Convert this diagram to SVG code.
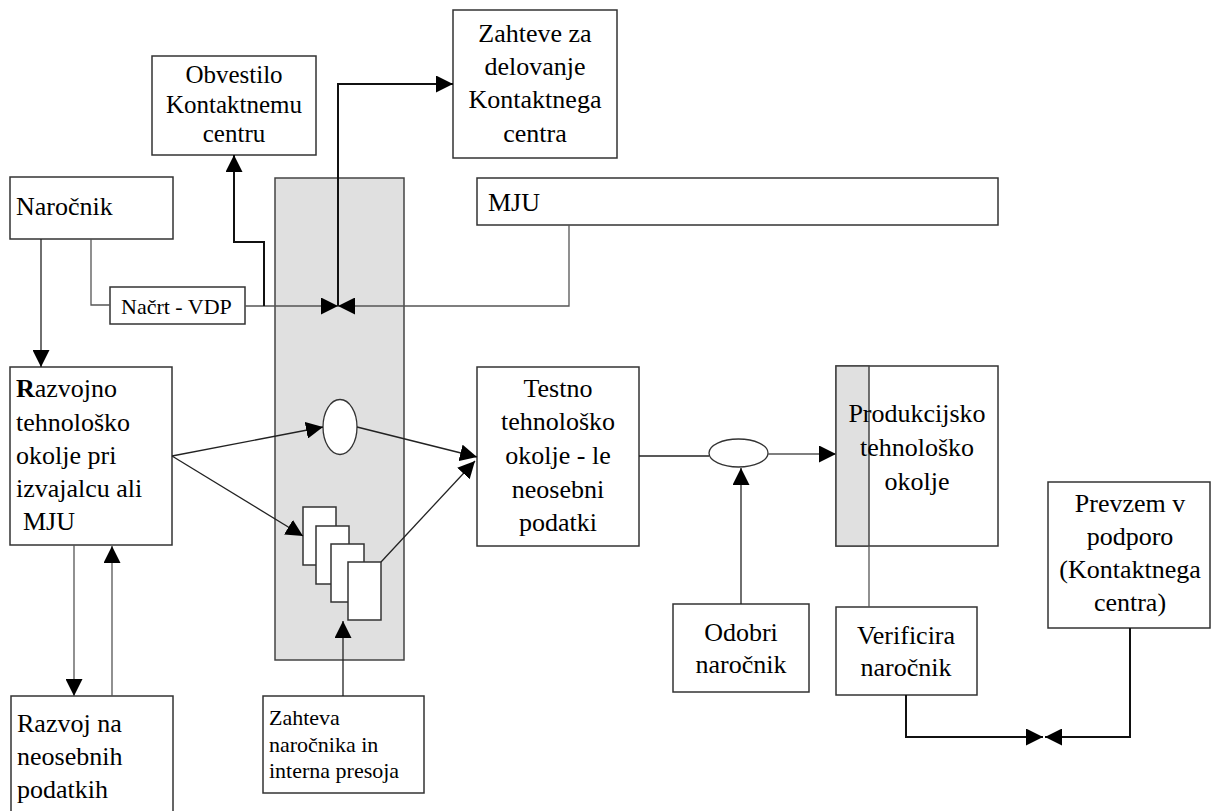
<svg xmlns="http://www.w3.org/2000/svg" width="1212" height="811" viewBox="0 0 1212 811" font-family="Liberation Serif, Times New Roman, DejaVu Serif, serif">
<style>
.box{fill:#fff;stroke:#333;stroke-width:1.5}
.gray{fill:#e0e0e0;stroke:#444;stroke-width:1.5}
text{font-family:'Liberation Serif','Times New Roman','DejaVu Serif',serif;font-size:26px;fill:#000}
.c{text-anchor:middle}
.s{font-size:22px}
.o{font-size:25px}
.ln{fill:none;stroke:#222;stroke-width:1.3}
.lg{fill:none;stroke:#555;stroke-width:1.3}
.lb{fill:none;stroke:#111;stroke-width:2}
</style>
<defs>
<marker id="ah" markerUnits="userSpaceOnUse" markerWidth="17" markerHeight="17" refX="16" refY="8" orient="auto" viewBox="0 0 16 16">
<path d="M0,0 L16,8 L0,16 z" fill="#000"/>
</marker>
</defs>
<rect x="0" y="0" width="1212" height="811" fill="#fff"/>
<g id="column"><rect class="gray" x="275" y="178" width="129" height="482"/></g>
<g id="narocnik"><rect class="box" x="10" y="177" width="163" height="62"/><text x="16" y="215">Naročnik</text></g>
<g id="nacrt"><rect class="box" x="110" y="287" width="135" height="37"/><text class="s" x="121" y="314">Načrt - VDP</text></g>
<g id="obvestilo"><rect class="box" x="152" y="56" width="164" height="99"/><text class="c o" x="234" y="83">Obvestilo</text><text class="c o" x="234" y="113">Kontaktnemu</text><text class="c o" x="234" y="142">centru</text></g>
<g id="zahteve"><rect class="box" x="453" y="10" width="164" height="148"/><text class="c" x="535" y="42">Zahteve za</text><text class="c" x="535" y="75">delovanje</text><text class="c" x="535" y="108">Kontaktnega</text><text class="c" x="535" y="142">centra</text></g>
<g id="mju"><rect class="box" x="477" y="178" width="521" height="47"/><text x="488" y="211">MJU</text></g>
<g id="razvojno"><rect class="box" x="10" y="367" width="162" height="178"/><text x="16" y="397"><tspan font-weight="bold">R</tspan>azvojno</text><text x="16" y="431">tehnološko</text><text x="16" y="464">okolje pri</text><text x="16" y="497">izvajalcu ali</text><text x="23" y="530">MJU</text></g>
<g id="razvoj"><rect class="box" x="11" y="696" width="162" height="125"/><text x="17" y="732">Razvoj na</text><text x="17" y="765">neosebnih</text><text x="17" y="798">podatkih</text></g>
<g id="ellipse1"><ellipse cx="340" cy="427" rx="17" ry="27.5" fill="#fff" stroke="#333" stroke-width="1.3"/></g>
<g id="docs">
<rect class="box" x="303" y="507" width="33" height="58" stroke-width="1.2"/>
<rect class="box" x="316" y="526" width="33" height="58" stroke-width="1.2"/>
<rect class="box" x="331" y="544" width="33" height="58" stroke-width="1.2"/>
<rect class="box" x="348" y="562" width="33" height="58" stroke-width="1.2"/>
</g>
<g id="zahteva-narocnika"><rect class="box" x="263" y="696" width="161" height="97"/><text class="s" x="269" y="725">Zahteva</text><text class="s" x="269" y="752">naročnika in</text><text class="s" x="269" y="778">interna presoja</text></g>
<g id="testno"><rect class="box" x="477" y="367" width="162" height="179"/><text class="c" x="558" y="397">Testno</text><text class="c" x="558" y="430">tehnološko</text><text class="c" x="558" y="464">okolje - le</text><text class="c" x="558" y="498">neosebni</text><text class="c" x="558" y="531">podatki</text></g>
<g id="ellipse2"><ellipse cx="738.5" cy="453" rx="29.5" ry="14" fill="#fff" stroke="#333" stroke-width="1.3"/></g>
<g id="produkcijsko"><rect class="box" x="836" y="366" width="162" height="180"/><rect class="gray" x="836" y="366" width="33" height="180"/><text class="c" x="917" y="422">Produkcijsko</text><text class="c" x="917" y="456">tehnološko</text><text class="c" x="917" y="490">okolje</text></g>
<g id="odobri"><rect class="box" x="673" y="604" width="136" height="88"/><text class="c" x="741" y="641">Odobri</text><text class="c" x="741" y="673">naročnik</text></g>
<g id="verificira"><rect class="box" x="836" y="607" width="141" height="88"/><text class="c" x="906" y="644">Verificira</text><text class="c" x="906" y="676">naročnik</text></g>
<g id="prevzem"><rect class="box" x="1048" y="482" width="162" height="146"/><text class="c" x="1130" y="512">Prevzem v</text><text class="c" x="1130" y="545">podporo</text><text class="c" x="1130" y="578">(Kontaktnega</text><text class="c" x="1130" y="611">centra)</text></g>
<g id="connectors">
<path class="ln" d="M41,239 V367" marker-end="url(#ah)"/>
<path class="lg" d="M91,239 V305 H110"/>
<path class="lg" d="M245,306 H338" marker-end="url(#ah)"/>
<path class="lg" d="M569,225 V306 H338" marker-end="url(#ah)"/>
<path class="lb" d="M338,306 V84 H453" marker-end="url(#ah)"/>
<path class="lb" d="M264,306 V242 H234 V155" marker-end="url(#ah)"/>
<path class="ln" d="M172,456 L323,427" marker-end="url(#ah)"/>
<path class="ln" d="M172,456 L303,536" marker-end="url(#ah)"/>
<path class="ln" d="M357,427 L477,457" marker-end="url(#ah)"/>
<path class="ln" d="M381,562 L475,461" marker-end="url(#ah)"/>
<path class="lg" d="M74,545 V696" marker-end="url(#ah)"/>
<path class="lg" d="M112,696 V546" marker-end="url(#ah)"/>
<path class="ln" d="M343,696 V621" marker-end="url(#ah)"/>
<path class="ln" d="M639,456 H709"/>
<path class="lg" d="M768,454 H836" marker-end="url(#ah)"/>
<path class="ln" d="M741,604 V468" marker-end="url(#ah)"/>
<path class="lg" d="M869,546 V607"/>
<path class="lb" d="M906,695 V737 H1043" marker-end="url(#ah)"/>
<path class="lb" d="M1130,628 V737 H1045" marker-end="url(#ah)"/>
</g>
</svg>
